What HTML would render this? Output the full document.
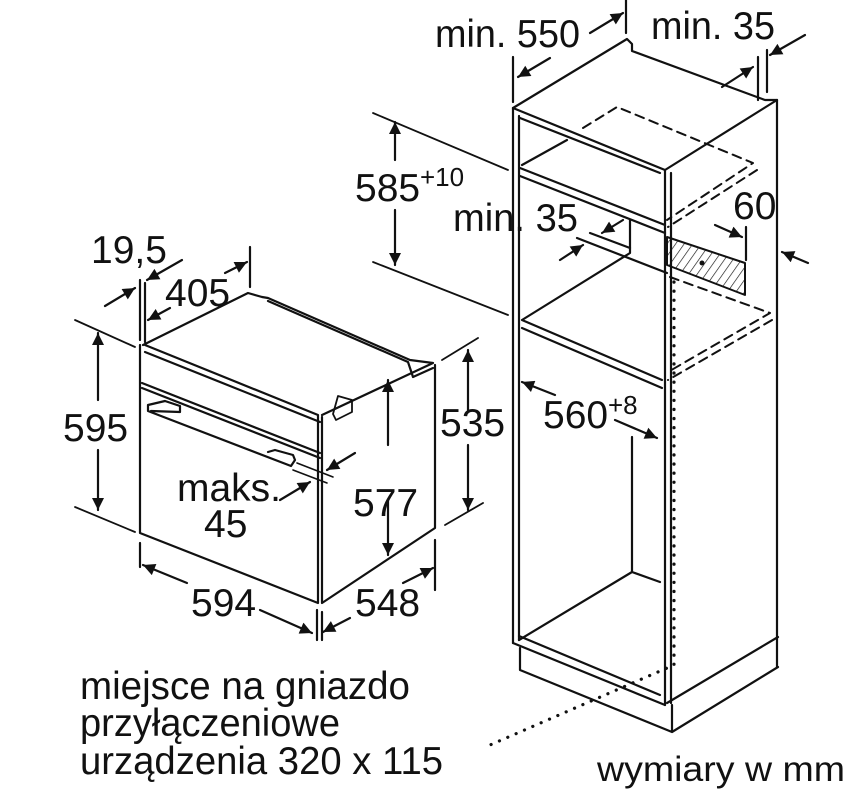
<!DOCTYPE html>
<html><head><meta charset="utf-8"><style>
html,body{margin:0;padding:0;background:#fff;}
svg{display:block;}
text{font-family:"Liberation Sans",sans-serif;fill:#111;}
</style></head><body>
<svg width="861" height="795" viewBox="0 0 861 795" xmlns="http://www.w3.org/2000/svg">
<defs>
<marker id="a" viewBox="0 0 10 10" refX="10" refY="5" markerWidth="15" markerHeight="12" orient="auto" markerUnits="userSpaceOnUse"><path d="M0,0 L10,5 L0,10 Z" fill="#111"/></marker>
<pattern id="h" width="7" height="7" patternUnits="userSpaceOnUse" patternTransform="rotate(35)"><line x1="0" y1="0" x2="0" y2="7" stroke="#111" stroke-width="1.3"/></pattern>
</defs>
<g stroke="#111" stroke-width="2.2" fill="none" stroke-linecap="round" stroke-linejoin="round">
<!-- CABINET -->
<path d="M513,108 L627,39 L632,44 L632,51 L765,100 L777,100 M513,108 L665,170 L777,100"/>
<path d="M513,108 V643 M519,116 V640 M665,170 V705 M671,173 V703 M777,100 V667"/>
<path d="M520,118 L660,173"/>
<path d="M520,168 L665,225 M520,176 L665,233 M522,165 L567,140"/>
<path d="M630,220 V253 L522,320 M522,320 L662,380 M522,328 L662,388"/>
<path d="M577,238 L667,273 M590,233 L630,248"/>
<path d="M519,640 L632,572 V437 M632,572 L660,582 M513,643 L665,705 M519,636 L660,695"/>
<path d="M520,648 V670 L672,732 V705 M672,732 L778,667 M667,703 L778,637"/>
<path d="M667,237 L745,263 V295 L667,265 Z" fill="url(#h)" stroke-width="2"/>
<circle cx="702" cy="263" r="2.5" fill="#111" stroke="none"/>
<g stroke-dasharray="9,6" stroke-width="2">
<path d="M583,128 L617,107 L753,163 L667,220 M757,170 L668,227"/>
<path d="M670,277 L770,313 L668,372 M772,320 L668,380"/>
</g>
<g stroke-dasharray="0.1,9" stroke-width="3.2">
<path d="M674,282 V665 L490,745"/>
</g>
<!-- cabinet dims -->
<path d="M513,57 V102 M626,0 V33 M758,57 V100 M767,50 V92"/>
<path d="M550,58 L518,77" marker-end="url(#a)"/><path d="M590,33 L623,13" marker-end="url(#a)"/>
<path d="M722,87 L753,67" marker-end="url(#a)"/><path d="M805,35 L770,55" marker-end="url(#a)"/>
<path d="M373,113 L508,170 M373,262 L508,315" stroke-width="1.8"/>
<path d="M395,160 V122" marker-end="url(#a)"/><path d="M395,210 V265" marker-end="url(#a)"/>
<path d="M623,220 L602,233" marker-end="url(#a)"/><path d="M560,260 L583,245" marker-end="url(#a)"/>
<path d="M715,225 L742,237" marker-end="url(#a)"/><path d="M746,227 V260"/>
<path d="M808,263 L782,252" marker-end="url(#a)"/>
<path d="M555,395 L522,382" marker-end="url(#a)"/><path d="M615,420 L657,438" marker-end="url(#a)"/>
<!-- OVEN -->
<path d="M143,345 L248,293 L262,297 M268,298 L410,360 L433,363 L322,415 M262,297 L268,298"/>
<path d="M268,301 L408,362 L413,377 L433,368"/>
<path d="M140,345 V533 L318,603 V415 L145,345 M322,417 V603 L435,528 V365"/>
<path d="M142,383 L320,453 M142,388 L320,458 M145,352 L320,422"/>
<path d="M148,405 L165,401 L180,406 L180,412 M148,405 L148,411 L291,466 L295,460 L293,455 L275,450 L268,452 M151,411 L180,412"/>
<path d="M338,396 L352,400 L352,412 L336,420 L333,414 Z" stroke-width="1.8"/>
<!-- oven dims -->
<path d="M140,280 V340 M145,283 V342 M250,247 V287"/>
<path d="M105,306 L135,288" marker-end="url(#a)"/><path d="M182,260 L147,280" marker-end="url(#a)"/>
<path d="M170,308 L148,320" marker-end="url(#a)"/><path d="M225,273 L247,262" marker-end="url(#a)"/>
<path d="M75,320 L135,347 M75,507 L135,532" stroke-width="1.8"/>
<path d="M98,400 V333" marker-end="url(#a)"/><path d="M98,450 V510" marker-end="url(#a)"/>
<path d="M478,338 L442,360 M483,503 L445,525" stroke-width="1.8"/>
<path d="M468,410 V350" marker-end="url(#a)"/><path d="M468,445 V510" marker-end="url(#a)"/>
<path d="M388,445 V380" marker-end="url(#a)"/><path d="M388,500 V555" marker-end="url(#a)"/>
<path d="M297,463 L333,477 M293,470 L327,483" stroke-width="1.6"/>
<path d="M280,500 L310,482" marker-end="url(#a)"/><path d="M355,453 L327,470" marker-end="url(#a)"/>
<path d="M140,543 V567 M317,610 V640 M322,612 V640 M435,540 V590"/>
<path d="M187,583 L143,565" marker-end="url(#a)"/><path d="M260,610 L312,633" marker-end="url(#a)"/>
<path d="M350,618 L323,632" marker-end="url(#a)"/><path d="M403,583 L433,568" marker-end="url(#a)"/>
</g>
<g font-size="39">
<text x="435" y="47" textLength="145" lengthAdjust="spacingAndGlyphs">min. 550</text>
<text x="651" y="39" textLength="124" lengthAdjust="spacingAndGlyphs">min. 35</text>
<text x="355" y="201">585</text><text x="420" y="186" font-size="26">+10</text>
<text x="453" y="231" textLength="125" lengthAdjust="spacingAndGlyphs">min. 35</text>
<text x="733" y="219">60</text>
<text x="543" y="428">560</text><text x="608" y="414" font-size="26">+8</text>
<text x="91" y="263">19,5</text>
<text x="165" y="306">405</text>
<text x="63" y="441">595</text>
<text x="440" y="436">535</text>
<text x="177" y="501">maks.</text>
<text x="204" y="537">45</text>
<text x="353" y="516">577</text>
<text x="191" y="616">594</text>
<text x="355" y="616">548</text>
<text x="80" y="699" textLength="330" lengthAdjust="spacingAndGlyphs">miejsce na gniazdo</text>
<text x="80" y="736" textLength="260" lengthAdjust="spacingAndGlyphs">przyłączeniowe</text>
<text x="80" y="774" textLength="363" lengthAdjust="spacingAndGlyphs">urządzenia 320 x 115</text>
<text x="597" y="781" font-size="35" textLength="248" lengthAdjust="spacingAndGlyphs">wymiary w mm</text>
</g>
</svg>
</body></html>
